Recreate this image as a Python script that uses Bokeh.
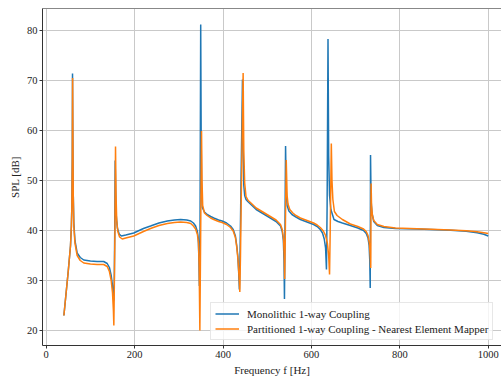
from bokeh.plotting import figure
from bokeh.models import Range1d, LinearAxis, FixedTicker, Legend, LegendItem
from bokeh.embed import file_html
from bokeh.resources import INLINE

# ---- data ----
mono_f = [40, 50, 55, 57, 58, 59, 59.5, 60, 61, 62.5, 65, 70, 77, 85, 100, 115, 130, 138, 143, 147,
          150, 152, 153, 154, 155, 156, 157, 158.5, 161, 165, 170, 180, 198, 220, 236, 255, 274, 290,
          304, 318, 327, 333, 338, 342, 344, 345.5, 346.5, 348, 349.5, 350.5, 351.5, 353, 358, 364,
          372, 379, 390, 398, 408, 417, 423, 428, 431, 433.5, 435.5, 437, 438.5, 440, 444, 445.5,
          447, 449, 452, 456, 462, 475, 492, 507, 520, 530, 534, 536.5, 538, 539, 540, 541.5, 543,
          545, 549, 556, 565, 575, 590, 605, 613, 620, 625, 629, 632, 634, 635.5, 637.5, 639, 641,
          644, 651, 660, 670, 688, 705, 718, 724, 728, 730.5, 732, 733, 733.7, 735, 737, 741, 749,
          764, 790, 839, 870, 915, 950, 975, 990, 1000]
mono_spl = [23.0, 32.0, 37.0, 41.0, 45.0, 55.0, 71.4, 62.0, 48.0, 41.5, 38.0, 35.5, 34.6, 34.1, 33.9,
            33.8, 33.8, 33.4, 32.6, 31.0, 29.0, 26.5, 26.0, 30.0, 40.0, 54.0, 48.0, 43.0, 40.5, 39.3,
            38.9, 39.1, 39.5, 40.4, 40.9, 41.5, 41.9, 42.1, 42.2, 42.1, 41.9, 41.5, 40.9, 39.8, 38.5,
            34.0, 28.9, 40.0, 81.2, 60.0, 48.0, 44.6, 43.7, 43.2, 42.8, 42.5, 42.1, 41.9, 41.5, 40.9,
            40.2, 38.9, 37.0, 34.9, 31.5, 28.2, 35.0, 45.0, 70.2, 56.0, 49.0, 47.0, 46.2, 45.8, 45.3,
            44.2, 43.3, 42.5, 41.8, 40.9, 39.8, 38.0, 34.0, 26.3, 38.0, 56.9, 48.0, 45.0, 43.9, 43.2,
            42.7, 42.2, 41.7, 41.2, 40.8, 40.2, 39.5, 38.3, 36.5, 32.2, 45.0, 78.3, 55.0, 47.0, 44.2,
            42.2, 41.8, 41.5, 41.0, 40.5, 40.0, 39.4, 38.5, 37.0, 34.0, 28.5, 55.1, 46.0, 43.5, 41.8,
            41.0, 40.6, 40.4, 40.3, 40.2, 40.05, 39.85, 39.55, 39.25, 38.9]

part_f = [40, 50, 55, 57, 58, 59, 59.7, 60.3, 61.2, 62.5, 65, 70, 77, 85, 100, 115, 130, 138, 143, 147,
          150, 152, 153, 154, 155.5, 156.8, 158, 159.5, 162, 166, 172, 180, 198, 220, 236, 255, 274,
          290, 304, 318, 327, 333, 338, 342, 344.5, 346, 347.6, 349, 351.4, 352.5, 354, 358, 364, 372,
          379, 390, 398, 408, 417, 423, 428, 431, 434, 436.5, 438, 439.5, 441.5, 445.5, 447, 449, 452,
          457, 462, 475, 492, 507, 520, 530, 534, 537, 538.5, 539.5, 541, 543, 545, 547, 551, 558, 565,
          575, 590, 605, 613, 620, 627, 632, 636, 639, 641, 642.5, 645, 646.5, 648.5, 652, 658, 670,
          688, 705, 718, 724, 728, 731, 733, 734.2, 735, 736, 738, 741, 749, 764, 790, 839, 870, 915,
          950, 975, 990, 1000]
part_spl = [23.0, 32.0, 37.0, 41.0, 44.5, 54.0, 70.5, 60.0, 47.0, 40.8, 37.5, 35.0, 34.0, 33.5, 33.3,
            33.2, 33.2, 32.8, 31.8, 30.0, 27.5, 24.0, 21.0, 28.0, 40.0, 56.8, 47.0, 42.0, 39.8, 38.7,
            38.3, 38.5, 38.9, 39.8, 40.4, 41.0, 41.4, 41.6, 41.7, 41.6, 41.4, 40.9, 40.3, 39.2, 37.5,
            33.0, 20.0, 35.0, 59.9, 50.0, 45.0, 43.5, 43.0, 42.5, 42.2, 41.8, 41.6, 41.2, 40.6, 39.9,
            38.6, 36.7, 34.0, 30.5, 27.7, 35.0, 48.0, 71.5, 56.0, 49.5, 46.8, 46.0, 45.6, 44.5, 43.6,
            42.8, 42.1, 41.2, 40.2, 38.2, 35.0, 30.3, 40.0, 54.1, 47.0, 45.3, 44.2, 43.5, 43.0, 42.5,
            42.0, 41.5, 41.1, 40.6, 39.9, 39.0, 37.5, 35.0, 31.2, 40.0, 57.4, 50.0, 46.2, 43.8, 43.0,
            42.2, 41.3, 40.8, 40.3, 39.8, 39.0, 37.5, 35.0, 32.5, 49.4, 45.0, 43.0, 42.0, 41.2, 40.8,
            40.5, 40.35, 40.25, 40.1, 39.95, 39.75, 39.55, 39.4]

x_ticks = [0, 200, 400, 600, 800, 1000]
y_ticks = [20, 30, 40, 50, 60, 70, 80]
series_names = ["Monolithic 1-way Coupling",
                "Partitioned 1-way Coupling - Nearest Element Mapper"]

FONT = "Liberation Serif"
TXT = "#222222"

p = figure(width=501, height=378, output_backend="svg", toolbar_location=None,
           x_range=Range1d(-8.4, 1030), y_range=Range1d(17.0, 84.4),
           min_border_left=42, min_border_right=0, min_border_top=8, min_border_bottom=32,
           background_fill_color="white", border_fill_color="white")
p.outline_line_color = None

for ax in (p.xaxis[0], p.yaxis[0]):
    ax.major_label_text_font = FONT
    ax.major_label_text_font_size = "10.5px"
    ax.major_label_text_color = TXT
    ax.axis_label_text_font = FONT
    ax.axis_label_text_font_size = "11px"
    ax.axis_label_text_font_style = "normal"
    ax.axis_label_text_color = TXT
    ax.axis_line_color = "#333333"
    ax.axis_line_width = 1
    ax.major_tick_line_color = "#333333"
    ax.major_tick_out = 3
    ax.major_tick_in = 0
    ax.minor_tick_line_color = None
    ax.major_label_standoff = 2
    ax.axis_label_standoff = 3

p.xaxis.ticker = FixedTicker(ticks=x_ticks)
p.yaxis.ticker = FixedTicker(ticks=y_ticks)
p.xaxis.axis_label = "Frequency f [Hz]"
p.yaxis.axis_label = "SPL [dB]"

top = LinearAxis(ticker=FixedTicker(ticks=[]), major_label_text_font_size="0px",
                 axis_line_color="#888888", major_tick_line_color=None,
                 minor_tick_line_color=None, major_tick_out=0, major_label_standoff=0)
p.add_layout(top, "above")

p.xgrid.ticker = FixedTicker(ticks=x_ticks)
p.ygrid.ticker = FixedTicker(ticks=y_ticks)
for g in (p.xgrid[0], p.ygrid[0]):
    g.grid_line_color = "#c9c9c9"
    g.grid_line_width = 1

r1 = p.line(mono_f, mono_spl, line_color="#1f77b4", line_width=1.5)
r2 = p.line(part_f, part_spl, line_color="#ff7f0e", line_width=1.5)

legend = Legend(items=[LegendItem(label=series_names[0], renderers=[r1]),
                       LegendItem(label=series_names[1], renderers=[r2])],
                location=(168, 5), orientation="vertical",
                label_text_font=FONT, label_text_font_size="11px", label_text_color=TXT,
                glyph_width=24, glyph_height=13, label_height=13, label_standoff=8,
                spacing=2, padding=4, margin=0,
                border_line_color="#d0d0d0", border_line_width=1,
                background_fill_color="white", background_fill_alpha=0.8)
p.add_layout(legend, "center")

open("out.html", "w").write(file_html(p, INLINE))
